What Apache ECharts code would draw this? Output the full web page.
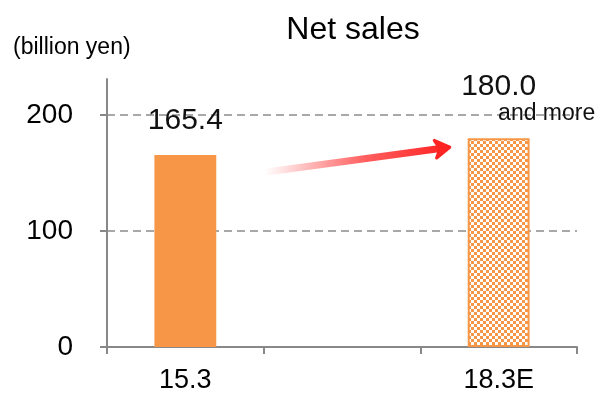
<!DOCTYPE html>
<html>
<head>
<meta charset="utf-8">
<script src="https://cdn.jsdelivr.net/npm/echarts@6/dist/echarts.min.js"></script>
<style>
  html, body { margin: 0; padding: 0; background: #fff; }
  #chart { width: 601px; height: 395px; }
</style>
</head>
<body>
<div id="chart"></div>
<script>
// Fiscal years on the x axis (middle slot is an empty spacer)
const categories = ['15.3', '', '18.3E'];
// Net sales, billion yen
const netSales = [165.4, null, 180.0];
// Which bars are forecasts (drawn with a checker fill)
const isForecast = [false, false, true];
// Suffix shown under forecast values
const forecastNote = 'and more';
const yTicks = [0, 100, 200];

const FONT = '"Liberation Sans", Arial, sans-serif';
const ORANGE = '#F79646';

// Small checkerboard tile used to fill the forecast bar
function checkerPattern() {
  const c = document.createElement('canvas');
  const s = 3;
  c.width = s * 2; c.height = s * 2;
  const g = c.getContext('2d');
  g.fillStyle = '#ffffff';
  g.fillRect(0, 0, s * 2, s * 2);
  g.fillStyle = ORANGE;
  g.fillRect(0, 0, s, s);
  g.fillRect(s, s, s, s);
  return c;
}

const barData = netSales.map((v, i) => {
  if (v == null) return '-';
  if (isForecast[i]) {
    return {
      value: v,
      itemStyle: {
        color: { image: checkerPattern(), repeat: 'repeat' },
        borderColor: ORANGE,
        borderWidth: 2
      },
      label: {
        formatter: '{v|' + v.toFixed(1) + '}\n{n|' + forecastNote + '}',
        distance: 13
      }
    };
  }
  return { value: v, itemStyle: { color: ORANGE } };
});

const chart = echarts.init(document.getElementById('chart'), null, { renderer: 'canvas' });

const subtitleText = {
  type: 'text',
  left: 13,
  top: 36,
  style: { text: '(billion yen)', font: '23px ' + FONT, fill: '#000' }
};

const option = {
  animation: false,
  backgroundColor: '#ffffff',
  title: {
    text: 'Net sales',
    left: 348,
    top: 9,
    textAlign: 'center',
    textStyle: { fontFamily: FONT, fontSize: 32, fontWeight: 'normal', color: '#000' }
  },
  graphic: [subtitleText],
  grid: { left: 107, right: 24, top: 79, bottom: 48, containLabel: false },
  xAxis: {
    type: 'category',
    data: categories,
    boundaryGap: true,
    axisLine: { lineStyle: { color: '#888', width: 2 } },
    axisTick: { show: true, length: 7, lineStyle: { color: '#888', width: 2 } },
    axisLabel: { fontFamily: FONT, fontSize: 27, color: '#000', margin: 20 }
  },
  yAxis: {
    type: 'value',
    min: yTicks[0],
    max: 231,
    interval: 100,
    axisLine: { show: true, lineStyle: { color: '#888', width: 2 } },
    axisTick: { show: true, length: 7, lineStyle: { color: '#888', width: 2 } },
    axisLabel: {
      fontFamily: FONT, fontSize: 28, color: '#000', margin: 34,
      showMaxLabel: false,
      formatter: v => (yTicks.indexOf(v) >= 0 ? String(v) : '')
    },
    splitLine: {
      show: true,
      lineStyle: {
        color: ['rgba(0,0,0,0)', '#8c8c8c', '#8c8c8c', 'rgba(0,0,0,0)'],
        type: [8, 5],
        width: 1.5
      }
    }
  },
  series: [{
    type: 'bar',
    data: barData,
    barWidth: '39.5%',
    label: {
      show: true,
      position: 'top',
      distance: 19,
      fontFamily: FONT,
      fontSize: 30,
      color: '#111',
      formatter: p => p.value.toFixed(1),
      rich: {
        v: { fontFamily: FONT, fontSize: 30, color: '#111', lineHeight: 30 },
        n: { fontFamily: FONT, fontSize: 23, color: '#111', lineHeight: 23, padding: [0, 0, 0, 96] }
      }
    }
  }]
};

chart.setOption(option);

// Growth arrow between the two bars, placed from data coordinates
function drawArrow() {
  const band = chart.convertToPixel({ xAxisIndex: 0 }, categories[1]) - chart.convertToPixel({ xAxisIndex: 0 }, categories[0]);
  const p0 = chart.convertToPixel({ gridIndex: 0 }, [0, 151]);
  const p1 = chart.convertToPixel({ gridIndex: 0 }, [2, 171.5]);
  const x0 = p0[0] + 0.53 * band, y0 = p0[1];
  const x1 = p1[0] - 0.35 * band, y1 = p1[1];
  const ang = Math.atan2(y1 - y0, x1 - x0);
  const head = 17, spread = 0.55;
  const tip = [x1 + Math.cos(ang) * 6, y1 + Math.sin(ang) * 6];
  const a = [tip[0] - head * Math.cos(ang - spread), tip[1] - head * Math.sin(ang - spread)];
  const b = [tip[0] - head * Math.cos(ang + spread), tip[1] - head * Math.sin(ang + spread)];
  chart.setOption({
    graphic: [
      subtitleText,
      {
        type: 'line',
        shape: { x1: x0, y1: y0, x2: x1, y2: y1 },
        style: {
          lineWidth: 7,
          lineCap: 'round',
          stroke: new echarts.graphic.LinearGradient(0, 0, 1, 0, [
            { offset: 0, color: 'rgba(255,40,40,0)' },
            { offset: 0.55, color: 'rgba(255,40,40,0.75)' },
            { offset: 1, color: 'rgba(255,35,35,1)' }
          ])
        },
        z: 10
      },
      {
        type: 'polygon',
        shape: { points: [tip, a, [x1 - Math.cos(ang) * 4, y1 - Math.sin(ang) * 4], b] },
        style: { fill: '#ff2424', stroke: '#ff2424', lineWidth: 3, lineJoin: 'round' },
        z: 11
      }
    ]
  });
}
drawArrow();
</script>
</body>
</html>
